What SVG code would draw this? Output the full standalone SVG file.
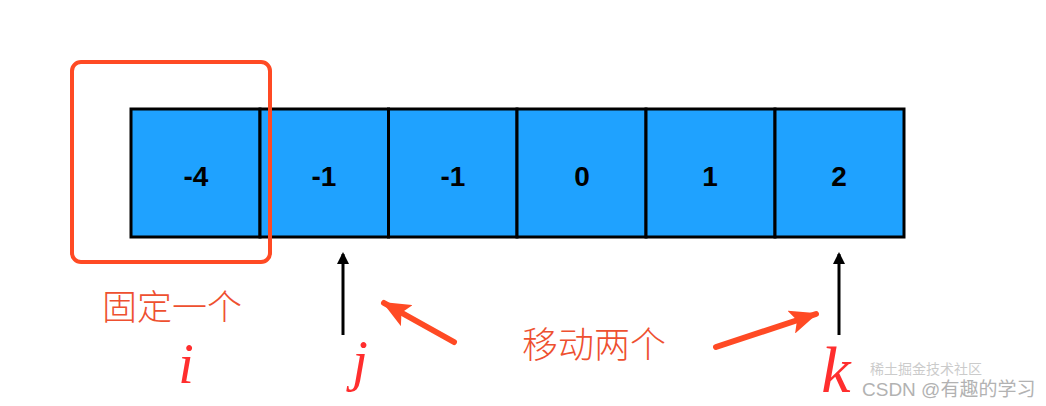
<svg xmlns="http://www.w3.org/2000/svg" width="1046" height="406" viewBox="0 0 1046 406">
<style>
.cell{fill:#1FA2FF;stroke:#000;stroke-width:3}
.num{font-family:"Liberation Sans",Arial,sans-serif;font-weight:bold;font-size:28px;fill:#000;text-anchor:middle}
.zh{font-family:"Noto Sans CJK SC","Noto Sans",sans-serif;font-weight:300;fill:#EE5030}
.hand{font-family:"Liberation Serif",serif;font-style:italic;fill:#FF2E2E;text-anchor:middle}
.ptr{stroke:#000;stroke-width:3;fill:none}
.orange{stroke:#FF4A24;stroke-width:6;fill:none;stroke-linecap:round}
.wm{font-family:"Liberation Sans","Noto Sans CJK SC",sans-serif;fill:#999}
</style>
<defs>
<marker id="blk" markerWidth="12" markerHeight="12" refX="10" refY="6" orient="auto" markerUnits="userSpaceOnUse" viewBox="0 0 12 12">
<path d="M0,0 L12,6 L0,12 Z" fill="#000"/>
</marker>
<marker id="org" markerWidth="28" markerHeight="24" refX="26" refY="12" orient="auto" markerUnits="userSpaceOnUse" viewBox="0 0 28 24">
<path d="M0,0 L28,12 L0,24 L6,12 Z" fill="#FF4A24"/>
</marker>
</defs>
<rect width="1046" height="406" fill="#fff"/>
<g id="cell0"><rect class="cell" x="131" y="109" width="129" height="128"/><text class="num" x="196" y="186">-4</text></g>
<g id="cell1"><rect class="cell" x="260" y="109" width="128.5" height="128"/><text class="num" x="324" y="186">-1</text></g>
<g id="cell2"><rect class="cell" x="388.5" y="109" width="128.5" height="128"/><text class="num" x="453" y="186">-1</text></g>
<g id="cell3"><rect class="cell" x="517" y="109" width="129" height="128"/><text class="num" x="582" y="186">0</text></g>
<g id="cell4"><rect class="cell" x="646" y="109" width="129" height="128"/><text class="num" x="710" y="186">1</text></g>
<g id="cell5"><rect class="cell" x="775" y="109" width="129" height="128"/><text class="num" x="839" y="186">2</text></g>
<g id="fixed-box"><rect x="72" y="62" width="198" height="200" rx="9" fill="none" stroke="#FF4A24" stroke-width="4"/></g>
<g id="label-fixed"><text class="zh" x="102" y="320" font-size="35">固定一个</text></g>
<g id="label-move"><text class="zh" x="522" y="358" font-size="36">移动两个</text></g>
<g id="label-i"><text class="hand" x="186" y="383" font-size="56">i</text></g>
<g id="label-j"><text class="hand" x="360" y="380" font-size="56">j</text></g>
<g id="label-k"><text class="hand" x="836" y="392" font-size="66">k</text></g>
<g id="connectors">
<line class="ptr" x1="343" y1="335" x2="343" y2="254" marker-end="url(#blk)"/>
<line class="ptr" x1="839" y1="335" x2="839" y2="254" marker-end="url(#blk)"/>
<line class="orange" x1="454" y1="342" x2="384" y2="303" marker-end="url(#org)"/>
<line class="orange" x1="716" y1="347" x2="816" y2="314" marker-end="url(#org)"/>
</g>
<g id="watermark">
<text class="wm" x="870" y="374" font-size="14" opacity="0.5">稀土掘金技术社区</text>
<text class="wm" x="862" y="396" font-size="19" opacity="0.75">CSDN @有趣的学习</text>
</g>
</svg>
